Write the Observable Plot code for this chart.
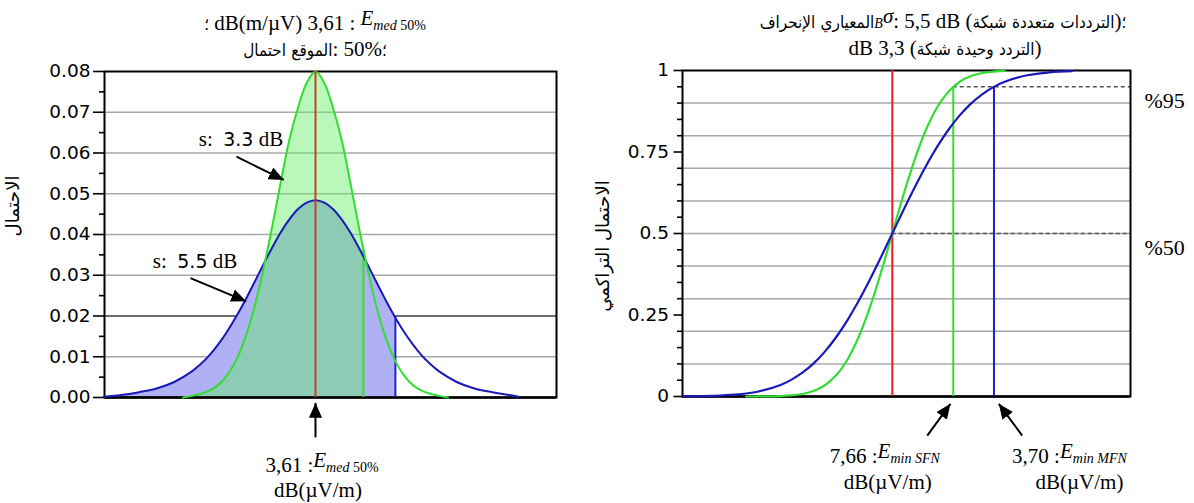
<!DOCTYPE html>
<html>
<head>
<meta charset="utf-8">
<script src="https://cdn.jsdelivr.net/npm/d3@7"></script>
<script src="https://cdn.jsdelivr.net/npm/@observablehq/plot@0.6"></script>
<style>
  html,body{margin:0;padding:0;background:#fff;}
  #wrap{position:relative;width:1194px;height:503px;overflow:hidden;background:#fff;}
  #wrap > svg{position:absolute;top:0;}
  .ttl{position:absolute;display:flex;flex-direction:row;align-items:baseline;direction:ltr;white-space:pre;
       transform:translateX(-50%);font-family:"Liberation Serif",serif;font-size:21px;line-height:24px;color:#000;}
  .ar{font-family:"DejaVu Sans Condensed","DejaVu Sans",sans-serif;font-size:17px;}
  .E{font-style:italic;position:relative;top:-5px;}
  .sub{font-size:14px;}
</style>
</head>
<body>
<div id="wrap"></div>
<script>
// ---------------- values ----------------
const E_MED = 61.3;       // E_med 50%  dB(µV/m)
const E_MIN_SFN = 66.73;  // E_min SFN
const E_MIN_MFN = 70.35;  // E_min MFN

// left panel: probability density (x as dB offset from E_med)
const pdfSfnOffset = [-15, -14, -13, -12, -11, -10, -9, -8, -7, -6, -5, -4, -3, -2, -1, 0, 1, 2, 3, 4, 5, 5.43, 6, 7, 8, 9, 10, 11, 12, 13, 14, 15];
const pdfSfnValue  = [0, 0.0004, 0.0009, 0.0017, 0.0031, 0.0055, 0.0091, 0.0144, 0.0215, 0.0305, 0.0409, 0.0521, 0.0629, 0.071, 0.0772, 0.08, 0.0772, 0.071, 0.0629, 0.0521, 0.0409, 0.0363, 0.0305, 0.0215, 0.0144, 0.0091, 0.0055, 0.0031, 0.0017, 0.0009, 0.0004, 0];
const pdfMfnOffset = [-24, -22, -20, -18, -16, -14, -13, -12, -11, -10, -9, -8, -7, -6, -5, -4, -3, -2, -1, 0, 1, 2, 3, 4, 5, 6, 7, 8, 9.05, 10, 11, 12, 13, 14, 16, 18, 20, 22, 23];
const pdfMfnValue  = [0.0002, 0.0006, 0.0013, 0.0022, 0.0038, 0.0064, 0.0082, 0.0104, 0.0131, 0.0162, 0.0198, 0.0237, 0.0279, 0.0322, 0.0364, 0.0403, 0.0436, 0.0462, 0.0478, 0.0484, 0.0478, 0.0462, 0.0436, 0.0403, 0.0364, 0.0322, 0.0279, 0.0237, 0.0196, 0.0162, 0.0131, 0.0104, 0.0082, 0.0064, 0.0038, 0.0022, 0.0013, 0.0006, 0.0002];

// right panel: cumulative probability (x as dB offset from E_med)
const cdfSfnOffset = [-13, -12, -10, -9, -8, -7, -6, -5, -4, -3, -2, -1, 0, 1, 2, 3, 4, 5, 6, 7, 8, 9, 10];
const cdfSfnValue  = [0, 0.0001, 0.0012, 0.0032, 0.0077, 0.017, 0.0345, 0.0649, 0.1128, 0.1817, 0.2723, 0.381, 0.5, 0.619, 0.7277, 0.8183, 0.8872, 0.9351, 0.9655, 0.983, 0.9923, 0.9968, 0.9988];
const cdfMfnOffset = [-18.6, -18, -16, -14, -12, -10, -9, -8, -7, -6, -5, -4, -3, -2, -1, 0, 1, 2, 3, 4, 5, 6, 7, 8, 9, 10, 12, 14, 16];
const cdfMfnValue  = [0.0004, 0.0005, 0.0018, 0.0055, 0.0146, 0.0345, 0.0509, 0.0729, 0.1015, 0.1377, 0.1817, 0.2335, 0.2927, 0.358, 0.4279, 0.5, 0.5721, 0.642, 0.7073, 0.7665, 0.8183, 0.8623, 0.8985, 0.9271, 0.9491, 0.9655, 0.9854, 0.9945, 0.9982];

// axes
const leftXDomain = [37.4, 88.6];
const leftYDomain = [0, 0.08];
const leftMajorTicks = [0, 0.01, 0.02, 0.03, 0.04, 0.05, 0.06, 0.07, 0.08];
const leftMinorTicks = [0.005, 0.015, 0.025, 0.035, 0.045, 0.055, 0.065, 0.075];
const leftGridLight = [0.01, 0.03, 0.04, 0.05, 0.06, 0.07];
const leftGridDark = [0.02];
const rightXDomain = [42.63, 82.5];
const rightYDomain = [0, 1];
const rightMajorTicks = [0, 0.25, 0.5, 0.75, 1];
const rightMinorTicks = [0.05, 0.1, 0.15, 0.2, 0.3, 0.35, 0.4, 0.45, 0.55, 0.6, 0.65, 0.7, 0.8, 0.85, 0.9, 0.95];
const rightGrid = [0.1, 0.2, 0.3, 0.4, 0.5, 0.6, 0.7, 0.8, 0.9];
const pctLevels = [0.95, 0.5];
const pctLabels = ["%95", "%50"];

// annotations (arrows, data units)
const leftNoteArrows = [
  {x1: 52.35, y1: 0.0591, x2: 57.71, y2: 0.0534, label: "3.3"},
  {x1: 47.14, y1: 0.0293, x2: 53.45, y2: 0.0236, label: "5.5"}
];
const leftAxisArrows = [{x1: E_MED, y1: -0.0098, x2: E_MED, y2: -0.0013}];
const rightAxisArrows = [
  {x1: 64.41, y1: -0.1198, x2: 66.48, y2: -0.0224},
  {x1: 72.86, y1: -0.1198, x2: 70.78, y2: -0.0224}
];

// texts (tokens in the visual left-to-right order of the reference)
const titleLeft1 = ['؛', ' dB(m/µV) 3,61 : ', '<span class="E">E</span>', '<span class="sub"><i>med</i> 50%</span>'];
const titleLeft2 = ['احتمال', ' ', 'الموقع', ': 50%', '؛'];
const titleRight1 = ['الإنحراف', ' ', 'المعياري', '<i class="sub">B</i>', '<span class="E">σ</span>', ': 5,5 dB (', 'شبكة', ' ', 'متعددة', ' ', 'الترددات', ')', '؛'];
const titleRight2 = ['dB 3,3 (', 'شبكة', ' ', 'وحيدة', ' ', 'التردد', ')'];
const yLabelLeft = "الاحتمال";
const yLabelRight = "الاحتمال التراكمي";
const unitText = "dB(µV/m)";

// ---------------- drawing ----------------
const GREEN = "#33dd33", BLUE = "#1a1ab8", BLUE_V = "#1f1fd6";
const wrap = d3.select("#wrap");
const hasAxisMark = typeof Plot.axisY === "function";

const sfnPdf = pdfSfnOffset.map((d, i) => ({x: E_MED + d, y: pdfSfnValue[i]}));
const mfnPdf = pdfMfnOffset.map((d, i) => ({x: E_MED + d, y: pdfMfnValue[i]}));
const sfnPdfArea = sfnPdf.filter(p => p.x <= E_MIN_SFN + 1e-6);
const mfnPdfArea = mfnPdf.filter(p => p.x <= E_MIN_MFN + 1e-6);
const sfnCut = sfnPdf.find(p => Math.abs(p.x - E_MIN_SFN) < 1e-6).y;
const mfnCut = mfnPdf.find(p => Math.abs(p.x - E_MIN_MFN) < 1e-6).y;
const sfnCdf = cdfSfnOffset.map((d, i) => ({x: E_MED + d, y: cdfSfnValue[i]}));
const mfnCdf = cdfMfnOffset.map((d, i) => ({x: E_MED + d, y: cdfMfnValue[i]}));

const baseStyle = {background: "transparent", fontFamily: "DejaVu Sans, sans-serif", fontSize: "18.5px", color: "#000", overflow: "visible"};

function axisMarks(major, minor, size, pad, fmt) {
  if (!hasAxisMark) return [];
  return [
    Plot.axisY(major, {tickSize: size, tickPadding: pad, tickFormat: fmt, label: null, strokeWidth: 1.6, fontSize: 18.5}),
    Plot.axisY(minor, {tickSize: 5, tickFormat: () => "", label: null, strokeWidth: 1.6})
  ];
}

function addMarker(svg, id) {
  svg.append("defs").append("marker")
    .attr("id", id).attr("viewBox", "0 0 15 13").attr("refX", 15).attr("refY", 6.5)
    .attr("markerWidth", 15).attr("markerHeight", 13).attr("markerUnits", "userSpaceOnUse")
    .attr("orient", "auto")
    .append("path").attr("d", "M0,0L15,6.5L0,13Z").attr("fill", "#000");
  svg.selectAll('g[aria-label="link"] path').attr("marker-end", `url(#${id})`);
}

function eLabel(svg, cx, baseline, num, subItalic, subRest) {
  const t = svg.append("text").attr("x", cx).attr("y", baseline).attr("text-anchor", "middle")
    .attr("font-family", "Liberation Serif, serif").attr("font-size", 21).attr("fill", "#000")
    .style("white-space", "pre");
  t.append("tspan").text(num + " :");
  t.append("tspan").attr("font-style", "italic").attr("dy", -5).text("E");
  t.append("tspan").attr("font-style", "italic").attr("font-size", 14).attr("dy", 5).text(subItalic);
  if (subRest) t.append("tspan").attr("font-size", 14).text(" " + subRest);
}
function plainLabel(svg, cx, baseline, txt) {
  svg.append("text").attr("x", cx).attr("y", baseline).attr("text-anchor", "middle")
    .attr("font-family", "Liberation Serif, serif").attr("font-size", 21).attr("fill", "#000").text(txt);
}
function yLabel(svg, cx, cy, txt) {
  svg.append("text").attr("transform", `translate(${cx},${cy}) rotate(-90)`)
    .attr("text-anchor", "middle").attr("dominant-baseline", "middle")
    .attr("font-family", "DejaVu Sans, sans-serif").attr("font-size", 18).attr("fill", "#000").text(txt);
}

// ---- left panel ----
const L = Plot.plot({
  width: 600, height: 503,
  marginLeft: 104, marginRight: 44, marginTop: 71, marginBottom: 106,
  style: baseStyle,
  x: {domain: leftXDomain, axis: null},
  y: hasAxisMark ? {domain: leftYDomain, label: null} : {domain: leftYDomain, label: null, ticks: leftMajorTicks, tickSize: 11, tickFormat: ".2f"},
  marks: [
    Plot.ruleY(leftGridLight, {stroke: "#a8a8a8", strokeWidth: 1.5}),
    Plot.ruleY(leftGridDark, {stroke: "#3a3a3a", strokeWidth: 1.5}),
    Plot.areaY(mfnPdfArea, {x: "x", y: "y", fill: "#b0b0f4", curve: "catmull-rom"}),
    Plot.areaY(sfnPdfArea, {x: "x", y: "y", fill: "#66ee66", fillOpacity: 0.45, curve: "catmull-rom"}),
    Plot.frame({stroke: "#000", strokeWidth: 2}),
    Plot.ruleY([0], {stroke: "#000", strokeWidth: 2.5}),
    Plot.ruleX([E_MIN_MFN], {y1: 0, y2: mfnCut, stroke: BLUE_V, strokeWidth: 2}),
    Plot.ruleX([E_MIN_SFN], {y1: 0, y2: sfnCut, stroke: GREEN, strokeWidth: 2}),
    Plot.line(mfnPdf, {x: "x", y: "y", stroke: BLUE, strokeWidth: 2, curve: "catmull-rom"}),
    Plot.line(sfnPdf, {x: "x", y: "y", stroke: GREEN, strokeWidth: 2, curve: "catmull-rom"}),
    Plot.ruleX([E_MED], {y1: 0, y2: 0.08, stroke: "#c0432b", strokeWidth: 2}),
    ...axisMarks(leftMajorTicks, leftMinorTicks, 11, 3, d3.format(".2f")),
    Plot.link([...leftNoteArrows, ...leftAxisArrows], {x1: "x1", y1: "y1", x2: "x2", y2: "y2", stroke: "#000", strokeWidth: 2})
  ]
});
L.style.left = "0px";
wrap.node().appendChild(L);
{
  const s = d3.select(L);
  addMarker(s, "headL");
  const sx = L.scale("x"), sy = L.scale("y");
  leftNoteArrows.forEach(a => {
    const t = s.append("text").attr("x", sx.apply(a.x1) + 5).attr("y", sy.apply(a.y1) - 10)
      .attr("text-anchor", "middle").attr("font-family", "Liberation Serif, serif").attr("font-size", 21)
      .attr("fill", "#000").style("white-space", "pre");
    t.append("tspan").text("s:  ");
    t.append("tspan").attr("font-family", "DejaVu Sans, sans-serif").attr("font-size", 19).text(a.label);
    t.append("tspan").text(" dB");
  });
  const mx = sx.apply(E_MED), y0 = sy.apply(0);
  eLabel(s, mx + 7, y0 + 75, "3,61", "med", "50%");
  plainLabel(s, mx + 3, y0 + 100, unitText);
  yLabel(s, 14, 206, yLabelLeft);
}

// ---- right panel ----
const R = Plot.plot({
  width: 614, height: 503,
  marginLeft: 102, marginRight: 64, marginTop: 70, marginBottom: 107,
  style: baseStyle,
  x: {domain: rightXDomain, axis: null},
  y: hasAxisMark ? {domain: rightYDomain, label: null} : {domain: rightYDomain, label: null, ticks: rightMajorTicks, tickSize: 8},
  marks: [
    Plot.ruleY(rightGrid, {stroke: "#a8a8a8", strokeWidth: 1.5}),
    Plot.ruleY([pctLevels[0]], {x1: E_MIN_SFN, x2: rightXDomain[1], stroke: "#555", strokeWidth: 1.6, strokeDasharray: "4,3"}),
    Plot.ruleY([pctLevels[1]], {x1: E_MED, x2: rightXDomain[1], stroke: "#555", strokeWidth: 1.6, strokeDasharray: "4,3"}),
    Plot.frame({stroke: "#000", strokeWidth: 2}),
    Plot.ruleY([0], {stroke: "#000", strokeWidth: 2.5}),
    Plot.ruleX([E_MED], {y1: 0, y2: 1, stroke: "#ee1c1c", strokeWidth: 2}),
    Plot.ruleX([E_MIN_SFN], {y1: 0, y2: pctLevels[0], stroke: GREEN, strokeWidth: 2}),
    Plot.ruleX([E_MIN_MFN], {y1: 0, y2: pctLevels[0], stroke: BLUE_V, strokeWidth: 2}),
    Plot.line(sfnCdf, {x: "x", y: "y", stroke: GREEN, strokeWidth: 2.2, curve: "catmull-rom"}),
    Plot.line(mfnCdf, {x: "x", y: "y", stroke: BLUE, strokeWidth: 2.2, curve: "catmull-rom"}),
    ...axisMarks(rightMajorTicks, rightMinorTicks, 8.5, 5, d => String(d)),
    Plot.text(pctLevels, {y: d => d, text: (d, i) => pctLabels[i], frameAnchor: "right", textAnchor: "start", dx: 14, dy: 14, fontFamily: "Liberation Serif, serif", fontSize: 22}),
    Plot.link(rightAxisArrows, {x1: "x1", y1: "y1", x2: "x2", y2: "y2", stroke: "#000", strokeWidth: 2})
  ]
});
R.style.left = "580px";
wrap.node().appendChild(R);
{
  const s = d3.select(R);
  addMarker(s, "headR");
  const sx = R.scale("x"), sy = R.scale("y");
  const gx = sx.apply(E_MIN_SFN), bx = sx.apply(E_MIN_MFN), y0 = sy.apply(0);
  eLabel(s, gx - 68, y0 + 67, "7,66", "min SFN", "");
  plainLabel(s, gx - 65, y0 + 93, unitText);
  eLabel(s, bx + 76, y0 + 67, "3,70", "min MFN", "");
  plainLabel(s, bx + 86, y0 + 93, unitText);
  yLabel(s, 24, 246, yLabelRight);
}

// ---- titles: flex rows so every token keeps the reference's visual order ----
const AR = /[\u0600-\u06FF]/;
function addTitle(tokens, cx, top) {
  const row = wrap.append("div").attr("class", "ttl").style("left", cx + "px").style("top", top + "px");
  tokens.forEach(tok => {
    row.append("span").attr("class", AR.test(tok) ? "ar" : null).html(tok);
  });
}
addTitle(titleLeft1, 315, 11);
addTitle(titleLeft2, 315, 37);
addTitle(titleRight1, 943, 9);
addTitle(titleRight2, 945, 36);
</script>
</body>
</html>
